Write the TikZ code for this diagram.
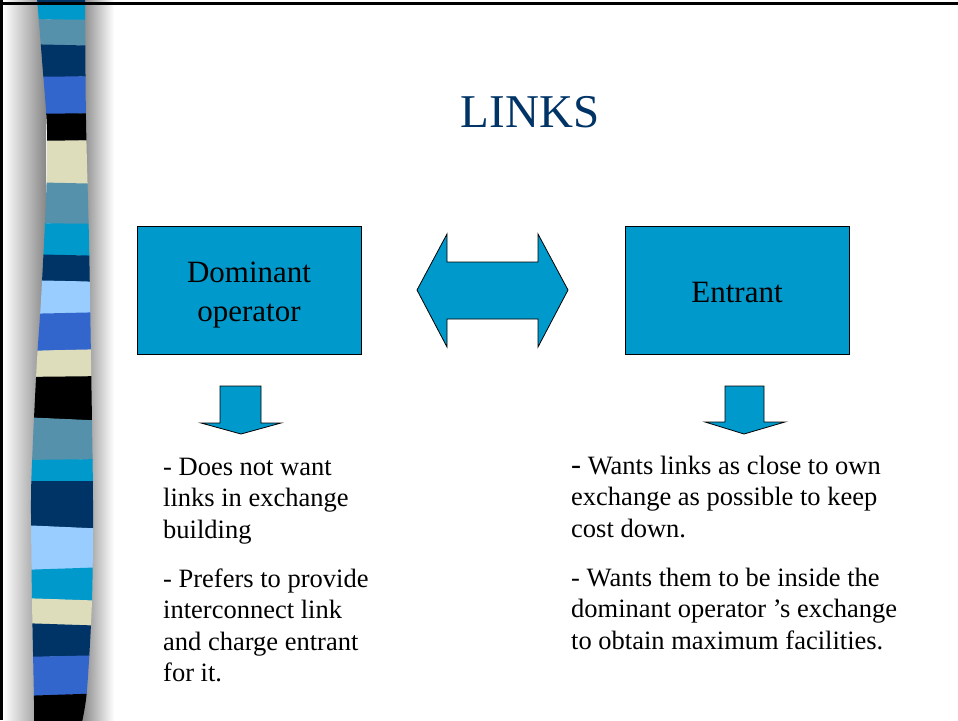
\documentclass[tikz,border=0pt]{standalone}
\usepackage{fontspec}
\setmainfont{Liberation Serif}
\definecolor{boxblue}{RGB}{0,153,204}
\definecolor{navyband}{RGB}{0,51,102}
\definecolor{steelband}{RGB}{85,145,170}
\definecolor{royalband}{RGB}{51,102,204}
\definecolor{beigeband}{RGB}{221,221,187}
\definecolor{lightband}{RGB}{153,204,255}
\definecolor{titlenavy}{RGB}{0,51,102}
\tikzset{
  bluebox/.style={draw=black, line width=0.8pt, fill=boxblue, minimum width=224pt, minimum height=128pt, inner sep=0pt},
  boxlabel/.style={inner sep=0pt, align=center, font=\fontsize{31}{39}\selectfont},
  blockarrow/.style={draw=black, line width=0.8pt, fill=boxblue, line join=miter},
  bodytext/.style={anchor=north west, inner sep=0pt, align=left, font=\fontsize{26.5}{31.3}\selectfont},
}
\begin{document}
\begin{tikzpicture}[x=1pt,y=-1pt]
\useasboundingbox (0,0) rectangle (958,720);
\fill[white] (0,0) rectangle (958,720);
% shadows of the strip
\shade[left color=white, right color=black!47] (3,0) rectangle (46,720);
\shade[left color=black!47, right color=white] (82,0) rectangle (114,720);
% striped strip
\begin{scope}
\clip plot[smooth] coordinates {(37,-2) (42,60) (47,130) (46,200) (41,300) (37,360) (33,440) (31,500) (32,600) (34,700) (34,722)}
  -- plot[smooth] coordinates {(82,722) (87,690) (92,600) (93,500) (91,360) (89,240) (86,120) (85,-2)} -- cycle;
\foreach \ya/\yar/\yb/\ybr/\c in {
  -2/-2/5/3/navyband, 5/3/19/20/boxblue, 19/20/44/46/steelband, 44/46/77/76/navyband,
  77/76/114/113/royalband, 114/113/141/140/black, 141/140/182/184/beigeband,
  182/184/223/224/steelband, 223/224/254/256/boxblue, 254/256/280/282/navyband,
  280/282/314/312/lightband, 314/312/351/349/royalband, 351/349/377/376/beigeband,
  377/376/417/421/black, 417/421/460/459/steelband, 460/459/481/481/boxblue,
  481/481/525/529/navyband, 525/529/570/567/lightband, 570/567/598/601/boxblue,
  598/601/623/626/beigeband, 623/626/657/655/navyband, 657/655/696/693/royalband,
  696/693/722/722/black}
  \fill[\c] (20,\ya) -- (110,\yar) -- (110,\ybr+0.4) -- (20,\yb+0.4) -- cycle;
\end{scope}
% slide frame
\draw[line width=3pt] (1.5,0) -- (1.5,720);
\draw[line width=2.5pt] (0,3.5) -- (958,3.5);
% title
\node[anchor=base, text=titlenavy, font=\fontsize{47}{50}\selectfont] (title) at (530,127) {LINKS};
% boxes
\node[bluebox] (dom) at (249,290) {};
\node[boxlabel] (domlabel) at ([yshift=-5.5pt]dom.center) {Dominant\\operator};
\node[bluebox] (ent) at (737,290) {};
\node[boxlabel] (entlabel) at ([yshift=-2pt]ent.center) {Entrant};
% double arrow between the boxes
\draw[blockarrow] (417,290) -- (447,234) -- (447,262) -- (538,262) -- (538,234) -- (568,290)
  -- (538,347) -- (538,319) -- (447,319) -- (447,347) -- cycle;
% down arrows
\draw[blockarrow] (220,386) -- (261,386) -- (261,423) -- (281,423) -- (241,434) -- (201,423) -- (220,423) -- cycle;
\draw[blockarrow] (725,386) -- (764,386) -- (764,422) -- (785,422) -- (744,434) -- (705,422) -- (725,422) -- cycle;
% texts
\node[bodytext] (lefttext) at (163,458) {- Does not want\\links in exchange\\building\\[18pt]- Prefers to provide\\interconnect link\\and charge entrant\\for it.};
\node[bodytext] (righttext) at (571,456) {{\fontsize{30}{31}\selectfont -} Wants links as close to own\\exchange as possible to keep\\cost down.\\[18pt]- Wants them to be inside the\\dominant operator ’s exchange\\to obtain maximum facilities.};
\end{tikzpicture}
\end{document}
